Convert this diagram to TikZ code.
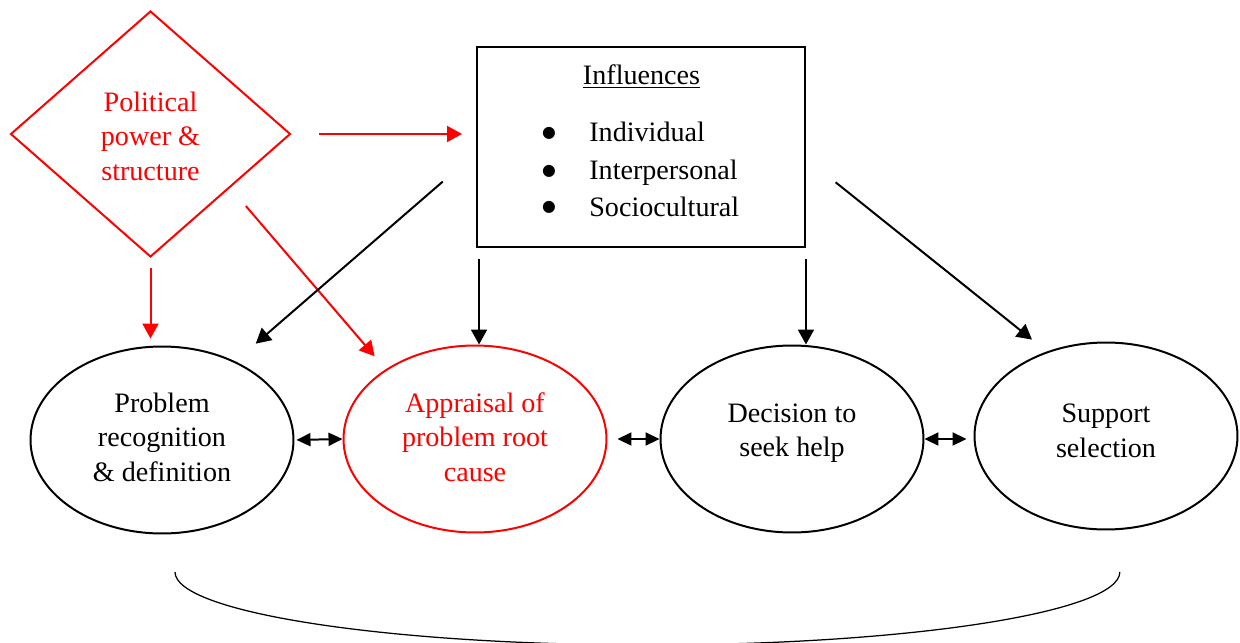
\documentclass[tikz,border=0pt]{standalone}
\usepackage{fontspec}
\setmainfont{Liberation Serif}
\newfontfamily\dvfont{DejaVu Sans}
\usetikzlibrary{shapes.geometric,arrows.meta}
\begin{document}
\begin{tikzpicture}[x=0.02cm,y=-0.02cm,
  every node/.style={font=\fontsize{16}{19.6}\selectfont, inner sep=0pt},
  oval/.style={draw, ellipse, line width=0.04cm, minimum width=5.26cm, minimum height=3.74cm, align=center},
  ar/.style={line width=0.04cm, -{Triangle[length=0.3cm,width=0.32cm]}},
  dar/.style={line width=0.04cm, {Triangle[length=0.28cm,width=0.26cm]}-{Triangle[length=0.28cm,width=0.26cm]}},
  lbl/.style={align=center},
  bul/.style={font=\dvfont\fontsize{9}{9}\selectfont}
]
\useasboundingbox (0,0) rectangle (1240,642);
\clip (0,0) rectangle (1240,642);

% diamond
\node[draw=red, text=red, diamond, line width=0.04cm, minimum width=5.6cm, minimum height=4.92cm] (dia) at (150.5,134) {};
\node[lbl, text=red] (diat) at (150.5,136) {Political\\power \&\\structure};

% influences box
\node[draw, line width=0.04cm, minimum width=6.56cm, minimum height=4cm] (box) at (641,147) {};
\node[anchor=base] (inft) at (641.5,85) {\underline{Influences}};
\node[bul] (b1) at (549,133) {●};
\node[bul] (b2) at (549,171) {●};
\node[bul] (b3) at (549,207) {●};
\node[anchor=base west] (i1) at (589,141) {Individual};
\node[anchor=base west] (i2) at (589,179) {Interpersonal};
\node[anchor=base west] (i3) at (589,216) {Sociocultural};

% ellipses
\node[oval] (e1) at (162,440) {};
\node[lbl] (t1) at (162,437) {Problem\\recognition\\\& definition};
\node[oval, draw=red] (e2) at (475,439) {};
\node[lbl, text=red] (t2) at (475,437) {Appraisal of\\problem root\\cause};
\node[oval] (e3) at (792,439) {};
\node[lbl] (t3) at (792,433) {Decision to\\seek help};
\node[oval] (e4) at (1106,436) {};
\node[lbl] (t4) at (1106,431) {Support\\selection};

% red arrows
\draw[ar, red, shorten <=0.56cm, shorten >=0.28cm] (dia.east) -- (dia.east -| box.west);
\draw[ar, red, shorten <=0.2cm, shorten >=0.14cm] (dia.south) -- (dia.south |- e1.north);
\draw[ar, red, shorten <=0.48cm, shorten >=0.34cm] (dia.-34.4) -- (e2.142);

% black arrows
\draw[ar, shorten <=0.88cm, shorten >=0.54cm] (box.182) -- (e1.47);
\draw[ar, shorten <=0.22cm] ([xshift=0.06cm]box.south west) -- ([xshift=0.06cm]box.south west |- e2.north);
\draw[ar, shorten <=0.22cm] (box.south east) -- (box.south east |- e3.north);
\draw[ar, shorten <=0.76cm, shorten >=0.38cm] (box.-4) -- (e4.125);

% double arrows
\draw[dar, shorten <=0.04cm] (e1.east) -- (e2.west);
\draw[dar, shorten <=0.2cm] (e2.east) -- (e3.west);
\draw[dar, shorten >=0.14cm] (e3.east) -- (e3.east -| e4.west);

% bottom curve
\draw[line width=0.025cm] (175,572) arc[start angle=180, end angle=360, x radius=9.45cm, y radius=1.46cm];
\end{tikzpicture}
\end{document}
